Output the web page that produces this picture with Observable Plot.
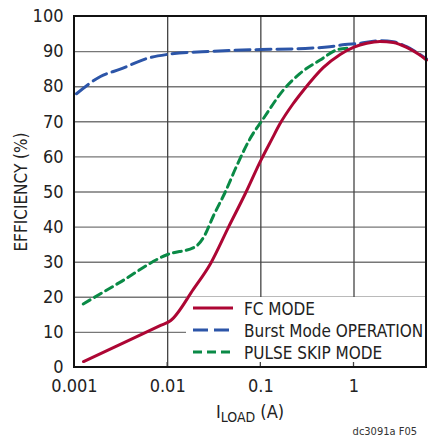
<!DOCTYPE html>
<html>
<head>
<meta charset="utf-8">
<script src="https://cdn.jsdelivr.net/npm/d3@7"></script>
<script src="https://cdn.jsdelivr.net/npm/@observablehq/plot@0.6"></script>
<style>
html, body { margin: 0; padding: 0; background: #fff; overflow: hidden; }
#chart { width: 440px; }
svg { font-family: "Liberation Sans Narrow", "DejaVu Sans Condensed", "Roboto", sans-serif; }
</style>
</head>
<body>
<div id="chart"></div>
<script>
// ---- data ----
const fcX = [0.00125, 0.0031, 0.0084, 0.0107, 0.019, 0.0287, 0.045, 0.068, 0.1, 0.131, 0.161, 0.22, 0.287, 0.47, 0.71, 1, 1.37, 1.9, 2.64, 3.67, 4.9, 6];
const fcY = [1.7, 6.6, 12.0, 13.3, 22.4, 29.5, 40, 49.5, 59, 65, 69.5, 75.0, 79.0, 85.5, 89.2, 91.3, 92.4, 92.9, 92.6, 91.2, 89.3, 87.6];

const burstX = [0.00105, 0.0019, 0.0031, 0.0065, 0.01, 0.03, 0.1, 0.3, 0.55, 0.8, 1.1, 1.9, 2.64, 3.67, 4.9, 6];
const burstY = [78, 82.9, 85, 88.3, 89.2, 90.1, 90.6, 90.9, 91.4, 92, 92.3, 93.1, 92.8, 91.4, 89.5, 87.9];

const psX = [0.00124, 0.003, 0.01, 0.0198, 0.0243, 0.0311, 0.0415, 0.0554, 0.077, 0.107, 0.175, 0.264, 0.433, 0.655, 0.85];
const psY = [18.1, 24.1, 32.2, 34.4, 37.1, 43.3, 50, 57.6, 65.3, 71, 79.1, 83.8, 87.6, 90.5, 91.0];

const xTicks = [0.001, 0.01, 0.1, 1, 6];
const xGrid = [0.01, 0.1, 1];
const yTicks = [0, 10, 20, 30, 40, 50, 60, 70, 80, 90, 100];
const seriesNames = ["FC MODE", "Burst Mode OPERATION", "PULSE SKIP MODE"];
const seriesColors = ["#ad0634", "#2c55a8", "#0a8a46"];
const seriesDash = [null, "15,6", "8,5"];

const toRows = (xs, ys) => xs.map((x, i) => ({x, y: ys[i]}));
const fc = toRows(fcX, fcY), burst = toRows(burstX, burstY), ps = toRows(psX, psY);

const plot = Plot.plot({
  width: 440,
  height: 439,
  marginLeft: 74,
  marginRight: 14,
  marginTop: 16,
  marginBottom: 72,
  style: {fontSize: "18px", fontFamily: '"Liberation Sans Narrow", "DejaVu Sans Condensed", sans-serif', color: "#222"},
  x: {type: "log", domain: [0.001, 6]},
  y: {domain: [0, 100]},
  marks: [
    Plot.ruleY(yTicks.slice(1, -1), {stroke: "#777", strokeWidth: 1.4}),
    Plot.ruleX(xGrid, {stroke: "#444", strokeWidth: 1.3}),
    Plot.line(burst, {x: "x", y: "y", stroke: seriesColors[1], strokeWidth: 3, strokeDasharray: seriesDash[1], curve: "monotone-x"}),
    Plot.line(ps, {x: "x", y: "y", stroke: seriesColors[2], strokeWidth: 3, strokeDasharray: seriesDash[2], curve: "monotone-x"}),
    Plot.line(fc, {x: "x", y: "y", stroke: seriesColors[0], strokeWidth: 3, curve: "monotone-x"}),
    Plot.axisY({ticks: yTicks, tickSize: 0, tickPadding: 11, label: null, fontSize: 18}),
    Plot.axisX({ticks: xTicks, tickSize: 0, tickPadding: 12, label: null, fontSize: 18, tickFormat: d => String(d)})
  ]
});

document.getElementById("chart").appendChild(plot);
const svg = d3.select(plot);
const sx = plot.scale("x"), sy = plot.scale("y");
const pLeft = sx.apply(0.001), pRight = sx.apply(6), pTop = sy.apply(100), pBottom = sy.apply(0);

// legend box (white, inside plot, beneath the curves but over the grid)
const firstLine = plot.querySelector('g[aria-label="line"]');
const box = document.createElementNS("http://www.w3.org/2000/svg", "rect");
plot.insertBefore(box, firstLine);
d3.select(box).attr("x", 186).attr("y", 297).attr("width", pRight - 186).attr("height", pBottom - 297 - 1).attr("fill", "#fff");

const lg = svg.append("g").attr("text-anchor", "start");
// bottom inner ticks
xGrid.forEach(v => {
  svg.append("line").attr("x1", sx.apply(v)).attr("x2", sx.apply(v))
    .attr("y1", pBottom - 5).attr("y2", pBottom).attr("stroke", "#444").attr("stroke-width", 1.3);
});
seriesNames.forEach((name, i) => {
  const y = 308 + i * 22;
  lg.append("line").attr("x1", 193).attr("x2", 233).attr("y1", y).attr("y2", y)
    .attr("stroke", seriesColors[i]).attr("stroke-width", 3)
    .attr("stroke-dasharray", i === 1 ? "15,6" : i === 2 ? "9,5" : null);
  lg.append("text").attr("x", 244).attr("y", y + 6.5).attr("text-anchor", "start")
    .attr("font-size", 17).attr("fill", "#222").text(name);
});

// frame
svg.append("rect").attr("x", pLeft).attr("y", pTop).attr("width", pRight - pLeft).attr("height", pBottom - pTop)
  .attr("fill", "none").attr("stroke", "#111").attr("stroke-width", 2);

// axis titles
svg.append("text").attr("transform", `translate(27,192) rotate(-90)`).attr("text-anchor", "middle")
  .attr("font-size", 17).attr("fill", "#222").text("EFFICIENCY (%)");
const xt = svg.append("text").attr("x", 250).attr("y", 418).attr("text-anchor", "middle").attr("font-size", 18).attr("fill", "#222");
xt.append("tspan").text("I");
xt.append("tspan").attr("font-size", 14).attr("dy", 4).text("LOAD");
xt.append("tspan").attr("dy", -4).text(" (A)");
svg.append("text").attr("x", 417).attr("y", 435).attr("text-anchor", "end").attr("font-size", 11).attr("fill", "#333").text("dc3091a F05");
</script>
</body>
</html>
